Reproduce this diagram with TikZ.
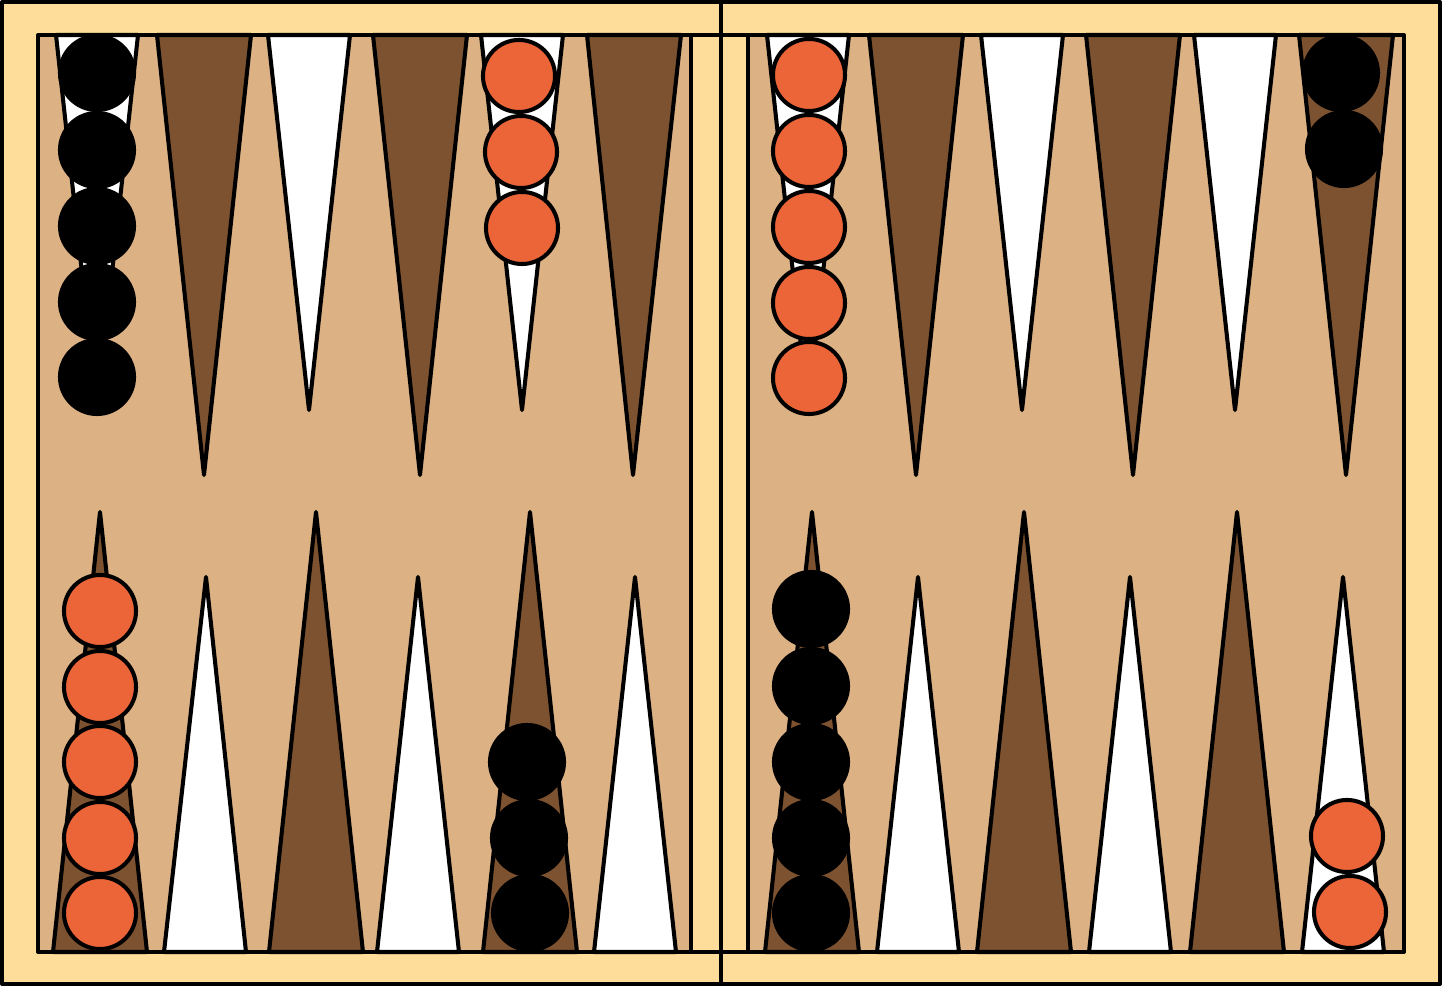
\documentclass[tikz,border=0pt]{standalone}
\usepackage{tikz}
\definecolor{framecol}{HTML}{FEDC9A}
\definecolor{boardcol}{HTML}{DCB184}
\definecolor{darkcol}{HTML}{7C5230}
\definecolor{redcol}{HTML}{EC6538}
\tikzset{every picture/.style={line width=1.15pt,line join=round},
  lightpt/.style={fill=white,draw=black},
  darkpt/.style={fill=darkcol,draw=black},
  redchip/.style={circle,fill=redcol,draw=black,inner sep=0pt,minimum size=0.72cm},
  blackchip/.style={circle,fill=black,draw=black,inner sep=0pt,minimum size=0.74cm}}

\begin{document}
\begin{tikzpicture}[x=0.01cm,y=-0.01cm]
      \useasboundingbox (0,0) rectangle (1442,986);
      \filldraw[fill=framecol] (2,2) rectangle (1440,984);
      \fill[boardcol] (38,35) rectangle (1404,952);

      \filldraw[lightpt] (56,35) -- (138,35) -- (97,410) -- cycle;
      \filldraw[darkpt] (157,35) -- (251,35) -- (204,475) -- cycle;
      \filldraw[lightpt] (268,35) -- (350,35) -- (309,410) -- cycle;
      \filldraw[darkpt] (373,35) -- (467,35) -- (420,475) -- cycle;
      \filldraw[lightpt] (481,35) -- (563,35) -- (522,410) -- cycle;
      \filldraw[darkpt] (587,35) -- (681,35) -- (633,475) -- cycle;

      \filldraw[darkpt] (53,952) -- (147,952) -- (100,512) -- cycle;
      \filldraw[lightpt] (164,952) -- (246,952) -- (206,577) -- cycle;
      \filldraw[darkpt] (269,952) -- (363,952) -- (316,512) -- cycle;
      \filldraw[lightpt] (377,952) -- (459,952) -- (418,577) -- cycle;
      \filldraw[darkpt] (483,952) -- (577,952) -- (530,512) -- cycle;
      \filldraw[lightpt] (594,952) -- (676,952) -- (635,577) -- cycle;

      \filldraw[lightpt] (767,35) -- (849,35) -- (808,410) -- cycle;
      \filldraw[darkpt] (869,35) -- (963,35) -- (916,475) -- cycle;
      \filldraw[lightpt] (981,35) -- (1063,35) -- (1022,410) -- cycle;
      \filldraw[darkpt] (1086,35) -- (1180,35) -- (1133,475) -- cycle;
      \filldraw[lightpt] (1194,35) -- (1276,35) -- (1235,410) -- cycle;
      \filldraw[darkpt] (1299,35) -- (1393,35) -- (1346,475) -- cycle;

      \filldraw[darkpt] (765,952) -- (859,952) -- (812,512) -- cycle;
      \filldraw[lightpt] (877,952) -- (959,952) -- (918,577) -- cycle;
      \filldraw[darkpt] (977,952) -- (1071,952) -- (1024,512) -- cycle;
      \filldraw[lightpt] (1089,952) -- (1171,952) -- (1130,577) -- cycle;
      \filldraw[darkpt] (1190,952) -- (1284,952) -- (1237,512) -- cycle;
      \filldraw[lightpt] (1302,952) -- (1384,952) -- (1343,577) -- cycle;

      \draw (38,35) rectangle (1404,952);
      \filldraw[fill=framecol] (691,35) rectangle (748,952);
      \draw (721,0) -- (721,986);

      \node[blackchip] (B0) at (97,73) {};
      \node[blackchip] (B1) at (97,150) {};
      \node[blackchip] (B2) at (97,226) {};
      \node[blackchip] (B3) at (97,302) {};
      \node[blackchip] (B4) at (97,377) {};
      \node[redchip] (R0) at (519,76) {};
      \node[redchip] (R1) at (521,152) {};
      \node[redchip] (R2) at (522,228) {};

      \node[redchip] (R3) at (100,611) {};
      \node[redchip] (R4) at (100,687) {};
      \node[redchip] (R5) at (100,762) {};
      \node[redchip] (R6) at (100,838) {};
      \node[redchip] (R7) at (100,913) {};
      \node[blackchip] (B5) at (527,762) {};
      \node[blackchip] (B6) at (529,838) {};
      \node[blackchip] (B7) at (530,913) {};

      \node[redchip] (R8) at (809,75) {};
      \node[redchip] (R9) at (809,151) {};
      \node[redchip] (R10) at (809,227) {};
      \node[redchip] (R11) at (809,303) {};
      \node[redchip] (R12) at (809,378) {};
      \node[blackchip] (B8) at (1341,73) {};
      \node[blackchip] (B9) at (1344,149) {};

      \node[blackchip] (B10) at (811,609) {};
      \node[blackchip] (B11) at (811,686) {};
      \node[blackchip] (B12) at (811,762) {};
      \node[blackchip] (B13) at (811,838) {};
      \node[blackchip] (B14) at (811,913) {};
      \node[redchip] (R13) at (1347,836) {};
      \node[redchip] (R14) at (1350,912) {};
    \end{tikzpicture}
\end{document}
